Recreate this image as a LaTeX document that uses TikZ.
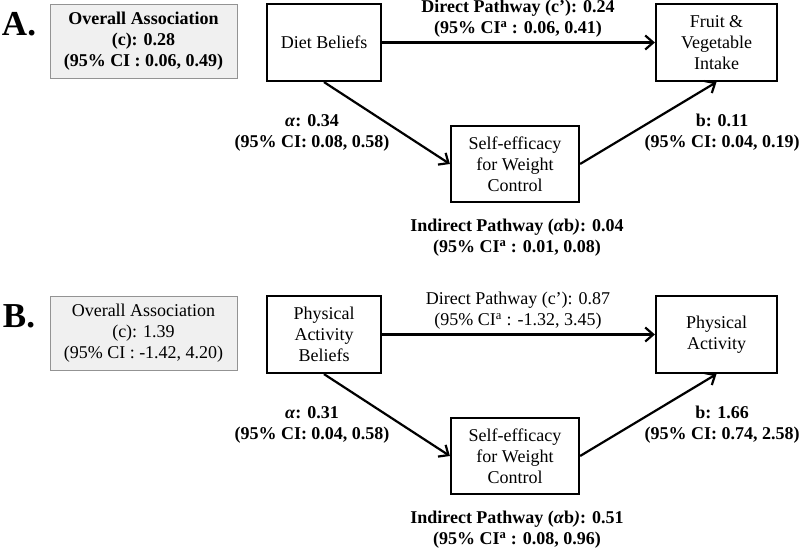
\documentclass[tikz,border=0pt]{standalone}
\usepackage{fontspec}
\setmainfont{Liberation Serif}
\usetikzlibrary{arrows.meta,positioning}

\begin{document}
\begin{tikzpicture}[
    x=1pt, y=-1pt,
    box/.style={rectangle, draw, line width=2.2pt, align=center, inner sep=2pt, font=\fontsize{18}{21}\selectfont},
    sumbox/.style={rectangle, draw=gray!85, fill=gray!12, line width=0.9pt, minimum width=187pt, minimum height=74pt, align=center, font=\fontsize{18}{21}\selectfont},
    lbl/.style={align=center, inner sep=0pt, font=\fontsize{18}{21}\selectfont\bfseries},
    plainlbl/.style={lbl, font=\fontsize{18}{21}\selectfont},
    panel/.style={font=\fontsize{35}{36}\selectfont\bfseries},
    arrow/.style={-{Straight Barb[length=8pt,width=14pt]}, line width=2.2pt}
]
\useasboundingbox (0,0) rectangle (800,551);

% Panel A
\node[panel] (panA) at (19,24) {A.};
\node[sumbox, font=\fontsize{18}{21}\selectfont\bfseries] (allA) at (143.5,41) {Overall Association\\(c): 0.28\\(95\% CI : 0.06, 0.49)};
\node[box, minimum width=114pt, minimum height=77pt] (dietA) at (324,42.5) {Diet Beliefs};
\node[box, minimum width=121pt, minimum height=77pt] (fvA) at (716.5,42.5) {Fruit \&\\Vegetable\\Intake};
\node[box, minimum width=128pt, minimum height=76pt] (seA) at (515,164) {Self-efficacy\\for Weight\\Control};

\draw[arrow] (dietA) -- (fvA);
\draw[arrow] (dietA.south) -- (seA.west);
\draw[arrow] (seA.east) -- (fvA.south);

\node[lbl] (dirA) at (518,19) {Direct Pathway (c’): 0.24\\(95\% CI\textsuperscript{a} : 0.06, 0.41)};
\node[lbl] (aA) at (312,133) {\textit{α}: 0.34\\(95\% CI: 0.08, 0.58)};
\node[lbl] (bA) at (722,133) {b: 0.11\\(95\% CI: 0.04, 0.19)};
\node[lbl] (indA) at (517,238) {Indirect Pathway (\textit{α}b\textit{)}: 0.04\\(95\% CI\textsuperscript{a} : 0.01, 0.08)};

% Panel B
\begin{scope}[yshift=-292pt]
\node[panel] (panB) at (19,24) {B.};
\node[sumbox] (allB) at (143.5,41) {Overall Association\\(c): 1.39\\(95\% CI : -1.42, 4.20)};
\node[box, minimum width=114pt, minimum height=77pt] (pab) at (324,42.5) {Physical\\Activity\\Beliefs};
\node[box, minimum width=121pt, minimum height=77pt] (pa) at (716.5,42.5) {Physical\\Activity};
\node[box, minimum width=128pt, minimum height=76pt] (seB) at (515,164) {Self-efficacy\\for Weight\\Control};

\draw[arrow] (pab) -- (pa);
\draw[arrow] (pab.south) -- (seB.west);
\draw[arrow] (seB.east) -- (pa.south);

\node[plainlbl] (dirB) at (518,19) {Direct Pathway (c’): 0.87\\(95\% CI\textsuperscript{a} : -1.32, 3.45)};
\node[lbl] (aB) at (312,133) {\textit{α}: 0.31\\(95\% CI: 0.04, 0.58)};
\node[lbl] (bB) at (722,133) {b: 1.66\\(95\% CI: 0.74, 2.58)};
\node[lbl] (indB) at (517,238) {Indirect Pathway (\textit{α}b\textit{)}: 0.51\\(95\% CI\textsuperscript{a} : 0.08, 0.96)};
\end{scope}
\end{tikzpicture}
\end{document}
